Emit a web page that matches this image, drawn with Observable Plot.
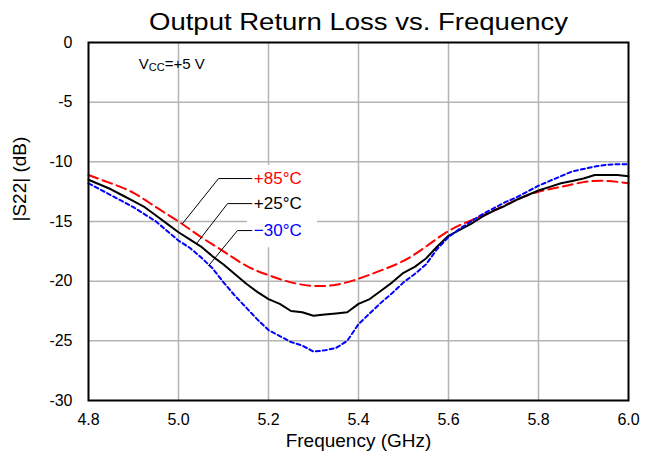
<!DOCTYPE html>
<html><head><meta charset="utf-8">
<script src="https://cdn.jsdelivr.net/npm/d3@7"></script>
<script src="https://cdn.jsdelivr.net/npm/@observablehq/plot@0.6"></script>
<style>
html,body{margin:0;padding:0;background:#fff;}
#chart{width:654px;height:453px;}
svg{font-family:"Liberation Sans",Arial,sans-serif;}
</style></head>
<body><div id="chart"></div>
<script>
const title = "Output Return Loss vs. Frequency";
const xLabel = "Frequency (GHz)";
const yLabel = "|S22| (dB)";
const xTicks = [4.8, 5.0, 5.2, 5.4, 5.6, 5.8, 6.0];
const yTicks = [0, -5, -10, -15, -20, -25, -30];

// fine frequency grid (GHz) for +25°C and −30°C traces
const freqFine = [4.800,4.825,4.850,4.875,4.900,4.925,4.950,4.975,5.000,5.025,5.050,5.075,5.100,5.125,5.150,5.175,5.200,5.225,5.250,5.275,5.300,5.325,5.350,5.375,5.400,5.425,5.450,5.475,5.500,5.525,5.550,5.575,5.600,5.625,5.650,5.675,5.700,5.725,5.750,5.775,5.800,5.825,5.850,5.875,5.900,5.925,5.950,5.975,6.000];
const s22_25 = [-11.5,-11.9,-12.3,-12.8,-13.3,-13.8,-14.5,-15.2,-15.9,-16.5,-17.1,-17.9,-18.6,-19.4,-20.2,-20.9,-21.5,-21.9,-22.5,-22.6,-22.9,-22.8,-22.7,-22.6,-21.9,-21.5,-20.8,-20.1,-19.3,-18.8,-18.1,-17.1,-16.2,-15.7,-15.2,-14.6,-14.1,-13.7,-13.2,-12.8,-12.4,-12.1,-11.8,-11.6,-11.4,-11.1,-11.1,-11.1,-11.2];
const s22_m30 = [-11.8,-12.3,-12.8,-13.3,-13.8,-14.4,-15.0,-15.8,-16.6,-17.2,-18.0,-18.9,-20.1,-21.2,-22.2,-23.2,-24.1,-24.6,-25.1,-25.4,-25.9,-25.8,-25.6,-25.0,-23.6,-22.7,-21.8,-21.0,-20.1,-19.4,-18.6,-17.3,-16.3,-15.6,-15.0,-14.4,-13.9,-13.4,-13.0,-12.5,-12.0,-11.6,-11.2,-10.8,-10.6,-10.4,-10.25,-10.2,-10.2];

// coarser grid for +85°C trace
const freqCoarse = [4.80,4.85,4.90,4.95,5.00,5.05,5.10,5.15,5.20,5.25,5.30,5.35,5.40,5.45,5.50,5.55,5.60,5.65,5.70,5.75,5.80,5.85,5.90,5.95,6.00];
const s22_85 = [-11.1,-11.8,-12.6,-13.8,-15.0,-16.3,-17.5,-18.7,-19.5,-20.1,-20.4,-20.3,-19.8,-19.1,-18.3,-17.1,-15.8,-14.9,-14.1,-13.2,-12.5,-12.1,-11.7,-11.6,-11.8];

// legend callouts: text, colour, anchor point on curve, elbow, text start
const calloutText = ["+85°C", "+25°C", "\u221230°C"];
const calloutColor = ["#ff0000", "#000000", "#0000ff"];
const calloutCurveX = [5.009, 5.042, 5.067];
const calloutCurveY = [-15.17, -16.76, -18.7];
const calloutElbowX = [5.089, 5.109, 5.131];
const calloutElbowY = [-11.4, -13.5, -15.76];
const calloutEndX = [5.163, 5.163, 5.163];
const calloutBoxX = [5.153, 5.309];
const calloutBoxY = [-10.3, -17.2];

const vccPos = {x: 4.913, y: -1.95};

const fine = freqFine.map((f, i) => ({f, a: s22_25[i], b: s22_m30[i]}));
const coarse = freqCoarse.map((f, i) => ({f, v: s22_85[i]}));
const callouts = calloutText.map((t, i) => ({
  t, c: calloutColor[i],
  pts: [[calloutCurveX[i], calloutCurveY[i]], [calloutElbowX[i], calloutElbowY[i]], [calloutEndX[i], calloutElbowY[i]]]
}));
const leaderLines = callouts.flatMap((d, k) => d.pts.map(p => ({k, x: p[0], y: p[1]})));

const plot = Plot.plot({
  width: 654, height: 453,
  marginLeft: 88, marginRight: 26, marginTop: 42, marginBottom: 53,
  style: {fontFamily: "'Liberation Sans', Arial, sans-serif", background: "#fff"},
  x: {domain: [4.8, 6.0]},
  y: {domain: [-30, 0]},
  marks: [
    Plot.gridX([5.0, 5.2, 5.4, 5.6, 5.8], {stroke: "#b4b4b4", strokeOpacity: 1, strokeWidth: 1.5}),
    Plot.gridY([-5, -10, -15, -20, -25], {stroke: "#b4b4b4", strokeOpacity: 1, strokeWidth: 1.5}),
    Plot.rect([{x1: calloutBoxX[0], x2: calloutBoxX[1], y1: calloutBoxY[0], y2: calloutBoxY[1]}], {x1: "x1", x2: "x2", y1: "y1", y2: "y2", fill: "white"}),
    Plot.line(coarse, {x: "f", y: "v", stroke: "#ff0000", strokeWidth: 2, strokeDasharray: "10,5", curve: "natural"}),
    Plot.line(fine, {x: "f", y: "a", stroke: "#000000", strokeWidth: 2}),
    Plot.line(fine, {x: "f", y: "b", stroke: "#0000ff", strokeWidth: 2, strokeDasharray: "4,3"}),
    Plot.line(leaderLines, {x: "x", y: "y", z: "k", stroke: "black", strokeWidth: 1}),
    Plot.text(callouts, {x: d => calloutEndX[0], y: d => d.pts[1][1], text: "t", fill: "c", textAnchor: "start", dx: 2, fontSize: 17}),
    Plot.axisX({ticks: xTicks, tickSize: 0, tickPadding: 13, tickFormat: d3.format(".1f"), fontSize: 16, label: xLabel, labelAnchor: "center", labelArrow: "none", labelOffset: 46}),
    Plot.axisY({ticks: yTicks, tickSize: 0, tickPadding: 16, tickFormat: d => String(d), fontSize: 16, label: null}),
    Plot.text([yLabel], {frameAnchor: "left", dx: -69, rotate: -90, fontSize: 19}),
    Plot.text([title], {frameAnchor: "top", dy: -30, fontSize: 24}),
    Plot.frame({stroke: "black", strokeWidth: 2})
  ]
});

// x-axis label font size
d3.select(plot).selectAll("[aria-label='x-axis label'] text").attr("font-size", 19);
// title slightly stretched like the reference
d3.select(plot).selectAll("text").filter(function(){ return this.textContent === title; })
  .attr("textLength", 419).attr("lengthAdjust", "spacingAndGlyphs");

// Vcc annotation with subscript
const sx = plot.scale("x"), sy = plot.scale("y");
const vt = d3.select(plot).append("text")
  .attr("x", sx.apply(vccPos.x)).attr("y", sy.apply(vccPos.y))
  .attr("text-anchor", "start")
  .attr("font-size", 15).attr("dominant-baseline", "middle");
vt.append("tspan").text("V");
vt.append("tspan").attr("font-size", 11).attr("dy", 3).text("CC");
vt.append("tspan").attr("dy", -3).text("=+5 V");

document.getElementById("chart").append(plot);
</script></body></html>
